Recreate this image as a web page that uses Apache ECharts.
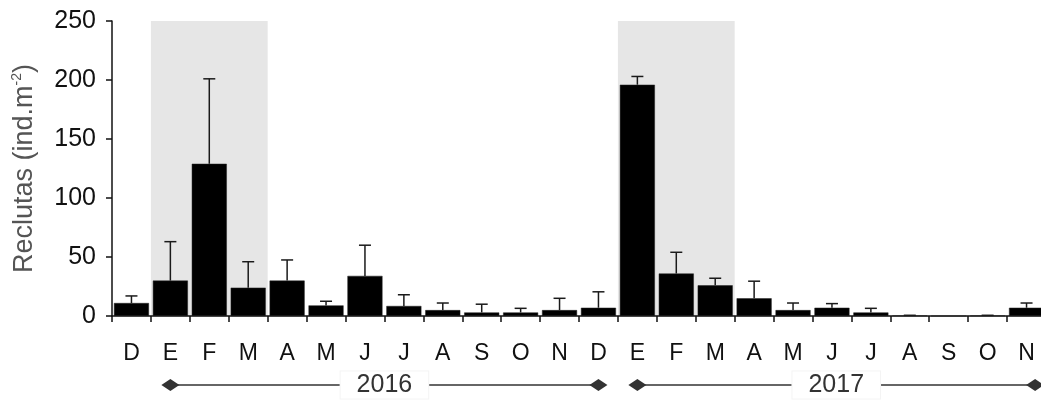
<!DOCTYPE html>
<html>
<head>
<meta charset="utf-8">
<script src="https://cdn.jsdelivr.net/npm/echarts@6/dist/echarts.min.js"></script>
<style>
html,body{margin:0;padding:0;background:#fff;}
#chart{width:1041px;height:401px;}
</style>
</head>
<body>
<div id="chart"></div>
<script>
var categories = ['D','E','F','M','A','M','J','J','A','S','O','N','D','E','F','M','A','M','J','J','A','S','O','N'];
var means = [11, 30, 129, 24, 30, 9, 34, 8.5, 5, 3, 3, 5, 7, 196, 36, 26, 15, 5, 7, 3, 0.3, 0, 0.3, 7];
var sd    = [6, 33, 72, 22, 17.5, 3.5, 26, 9.5, 6, 7, 3.5, 10, 13.5, 7, 18, 6, 14.5, 6, 3.5, 3.5, 0.3, 0, 0.3, 4];
var yTicks = [0, 50, 100, 150, 200, 250];
var seasons = [[1, 3], [13, 15]];
var years = [['2016', 1, 12], ['2017', 13, 23.22]];

var FONT = '"Liberation Sans", Arial, Helvetica, sans-serif';
var chart = echarts.init(document.getElementById('chart'));

var option = {
  animation: false,
  backgroundColor: '#fff',
  grid: { left: 112, top: 21, width: 934, height: 295, containLabel: false, outerBoundsMode: 'none' },
  xAxis: {
    type: 'category',
    data: categories,
    axisLine: { lineStyle: { color: '#111', width: 1.5 } },
    axisTick: { show: true, length: 6, lineStyle: { color: '#111', width: 1.5 } },
    axisLabel: { color: '#111', fontSize: 23, fontFamily: FONT, margin: 26, interval: 0 },
    splitLine: { show: false }
  },
  yAxis: {
    type: 'value',
    min: yTicks[0],
    max: yTicks[yTicks.length - 1],
    interval: yTicks[1] - yTicks[0],
    name: '{a|Reclutas (ind.m}{b|-2}{a|)}',
    nameLocation: 'middle',
    nameGap: 72,
    nameTextStyle: {
      fontFamily: FONT,
      rich: {
        a: { fontSize: 27, color: '#555', fontFamily: FONT, lineHeight: 30 },
        b: { fontSize: 14, color: '#555', fontFamily: FONT, verticalAlign: 'top', lineHeight: 30 }
      }
    },
    axisLine: { show: true, lineStyle: { color: '#111', width: 1.5 } },
    axisTick: { show: true, length: 6, lineStyle: { color: '#111', width: 1.5 } },
    axisLabel: { color: '#111', fontSize: 25, fontFamily: FONT, margin: 16 },
    splitLine: { show: false }
  },
  series: [
    {
      type: 'custom',
      name: 'season',
      z: 0,
      clip: false,
      silent: true,
      data: seasons,
      renderItem: function (params, api) {
        var a = api.value(0), b = api.value(1);
        var bw = api.size([1, 0])[0];
        var pTop = api.coord([a, yTicks[yTicks.length - 1]]);
        var pBot = api.coord([b, 0]);
        return {
          type: 'rect',
          shape: { x: pTop[0] - bw / 2, y: pTop[1], width: pBot[0] - pTop[0] + bw, height: pBot[1] - pTop[1] },
          style: { fill: '#e6e6e6' }
        };
      }
    },
    {
      type: 'bar',
      name: 'Reclutas',
      z: 2,
      data: means,
      barCategoryGap: '10%',
      itemStyle: { color: '#000', borderColor: '#222', borderWidth: 0.5 }
    },
    {
      type: 'custom',
      name: 'error',
      z: 3,
      clip: false,
      silent: true,
      data: means.map(function (m, i) { return [i, m, sd[i]]; }),
      renderItem: function (params, api) {
        var i = api.value(0), m = api.value(1), s = api.value(2);
        if (!s) return null;
        var p0 = api.coord([i, m]);
        var p1 = api.coord([i, m + s]);
        var st = { stroke: '#1a1a1a', lineWidth: 1.5 };
        return {
          type: 'group',
          children: [
            { type: 'line', shape: { x1: p0[0], y1: p0[1], x2: p1[0], y2: p1[1] }, style: st },
            { type: 'line', shape: { x1: p1[0] - 6, y1: p1[1], x2: p1[0] + 6, y2: p1[1] }, style: st }
          ]
        };
      }
    },
    {
      type: 'custom',
      name: 'years',
      z: 4,
      clip: false,
      silent: true,
      data: years,
      renderItem: function (params, api) {
        var label = years[params.dataIndex][0];
        var a = api.value(1), b = api.value(2);
        var pa = api.coord([a, 0]);
        var bw = api.size([1, 0])[0];
        var pb = api.coord([Math.floor(b), 0]);
        var xb = pb[0] + (b - Math.floor(b)) * bw;
        var y = pa[1] + 69;
        var xa = pa[0];
        var mid = (xa + xb) / 2;
        function diamond(cx) {
          return { type: 'polygon', shape: { points: [[cx - 9, y], [cx, y - 6], [cx + 9, y], [cx, y + 6]] }, style: { fill: '#333' } };
        }
        return {
          type: 'group',
          children: [
            { type: 'line', shape: { x1: xa, y1: y, x2: xb, y2: y }, style: { stroke: '#333', lineWidth: 1.5 } },
            diamond(xa), diamond(xb),
            { type: 'text', style: { text: label, x: mid, y: y, align: 'center', verticalAlign: 'middle',
              fontSize: 25, fontFamily: FONT, fill: '#333', backgroundColor: '#fff',
              borderColor: '#f4f4f4', borderWidth: 1, padding: [1, 16, 1, 16] } }
          ]
        };
      }
    }
  ]
};
chart.setOption(option);
</script>
</body>
</html>
